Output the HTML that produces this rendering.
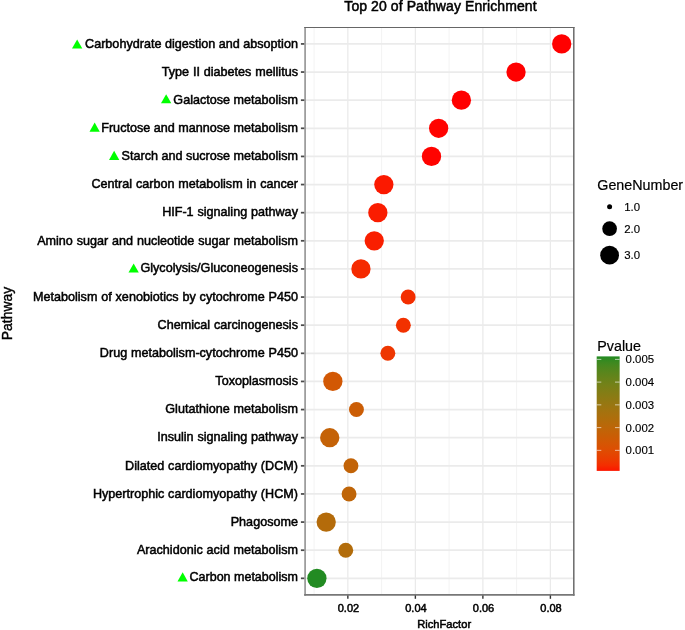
<!DOCTYPE html>
<html><head><meta charset="utf-8"><title>Top 20 of Pathway Enrichment</title>
<style>html,body{margin:0;padding:0;background:#fff;}svg{display:block;}text{font-family:"Liberation Sans",Arial,Helvetica,sans-serif;fill:#000;}</style></head><body>
<svg width="685" height="630" viewBox="0 0 685 630">
<rect width="685" height="630" fill="#fff"/>
<g stroke="#f3f3f3" stroke-width="1">
<line x1="314.09" x2="314.09" y1="27.5" y2="594.8"/>
<line x1="381.61" x2="381.61" y1="27.5" y2="594.8"/>
<line x1="449.12" x2="449.12" y1="27.5" y2="594.8"/>
<line x1="516.64" x2="516.64" y1="27.5" y2="594.8"/>
</g>
<g stroke="#eaeaea" stroke-width="1.25">
<line x1="347.85" x2="347.85" y1="27.5" y2="594.8"/>
<line x1="415.37" x2="415.37" y1="27.5" y2="594.8"/>
<line x1="482.88" x2="482.88" y1="27.5" y2="594.8"/>
<line x1="550.40" x2="550.40" y1="27.5" y2="594.8"/>
</g>
<g stroke="#ebebeb" stroke-width="1.8">
<line x1="305.1" x2="574.0" y1="43.92" y2="43.92"/>
<line x1="305.1" x2="574.0" y1="72.05" y2="72.05"/>
<line x1="305.1" x2="574.0" y1="100.17" y2="100.17"/>
<line x1="305.1" x2="574.0" y1="128.30" y2="128.30"/>
<line x1="305.1" x2="574.0" y1="156.43" y2="156.43"/>
<line x1="305.1" x2="574.0" y1="184.56" y2="184.56"/>
<line x1="305.1" x2="574.0" y1="212.68" y2="212.68"/>
<line x1="305.1" x2="574.0" y1="240.81" y2="240.81"/>
<line x1="305.1" x2="574.0" y1="268.94" y2="268.94"/>
<line x1="305.1" x2="574.0" y1="297.06" y2="297.06"/>
<line x1="305.1" x2="574.0" y1="325.19" y2="325.19"/>
<line x1="305.1" x2="574.0" y1="353.32" y2="353.32"/>
<line x1="305.1" x2="574.0" y1="381.44" y2="381.44"/>
<line x1="305.1" x2="574.0" y1="409.57" y2="409.57"/>
<line x1="305.1" x2="574.0" y1="437.70" y2="437.70"/>
<line x1="305.1" x2="574.0" y1="465.82" y2="465.82"/>
<line x1="305.1" x2="574.0" y1="493.95" y2="493.95"/>
<line x1="305.1" x2="574.0" y1="522.08" y2="522.08"/>
<line x1="305.1" x2="574.0" y1="550.21" y2="550.21"/>
<line x1="305.1" x2="574.0" y1="578.33" y2="578.33"/>
</g>
<circle cx="561.7" cy="43.92" r="9.65" fill="#ff0000"/>
<circle cx="516.05" cy="72.05" r="9.65" fill="#ff0000"/>
<circle cx="461.4" cy="100.17" r="9.65" fill="#ff0000"/>
<circle cx="438.65" cy="128.30" r="9.65" fill="#ff0300"/>
<circle cx="431.5" cy="156.43" r="9.65" fill="#ff0300"/>
<circle cx="383.85" cy="184.56" r="9.65" fill="#fb1900"/>
<circle cx="377.85" cy="212.68" r="9.65" fill="#fa1c00"/>
<circle cx="374.25" cy="240.81" r="9.65" fill="#f91f00"/>
<circle cx="360.95" cy="268.94" r="9.65" fill="#f52a00"/>
<circle cx="408.15" cy="297.06" r="7.45" fill="#f32e00"/>
<circle cx="403.35" cy="325.19" r="7.45" fill="#f23100"/>
<circle cx="387.85" cy="353.32" r="7.45" fill="#ee3701"/>
<circle cx="332.85" cy="381.44" r="9.65" fill="#d25804"/>
<circle cx="356.45" cy="409.57" r="7.45" fill="#cb5d05"/>
<circle cx="329.75" cy="437.70" r="9.65" fill="#c46207"/>
<circle cx="350.95" cy="465.82" r="7.45" fill="#c26307"/>
<circle cx="349.05" cy="493.95" r="7.45" fill="#bf6508"/>
<circle cx="326.2" cy="522.08" r="9.65" fill="#b46b0a"/>
<circle cx="345.75" cy="550.21" r="7.45" fill="#b26c0b"/>
<circle cx="316.9" cy="578.33" r="9.65" fill="#228b22"/>
<line x1="305.1" x2="305.1" y1="26.9" y2="595.65" stroke="#9e9e9e" stroke-width="1.8"/>
<line x1="573.8" x2="573.8" y1="26.9" y2="595.65" stroke="#6a6a6a" stroke-width="1.5"/>
<line x1="304.20000000000005" x2="574.5" y1="27.5" y2="27.5" stroke="#666" stroke-width="1.2"/>
<line x1="304.20000000000005" x2="574.5" y1="594.8" y2="594.8" stroke="#777" stroke-width="1.7"/>
<g stroke="#4a4a4a" stroke-width="1.75">
<line x1="300.9" x2="304.3" y1="43.92" y2="43.92"/>
<line x1="300.9" x2="304.3" y1="72.05" y2="72.05"/>
<line x1="300.9" x2="304.3" y1="100.17" y2="100.17"/>
<line x1="300.9" x2="304.3" y1="128.30" y2="128.30"/>
<line x1="300.9" x2="304.3" y1="156.43" y2="156.43"/>
<line x1="300.9" x2="304.3" y1="184.56" y2="184.56"/>
<line x1="300.9" x2="304.3" y1="212.68" y2="212.68"/>
<line x1="300.9" x2="304.3" y1="240.81" y2="240.81"/>
<line x1="300.9" x2="304.3" y1="268.94" y2="268.94"/>
<line x1="300.9" x2="304.3" y1="297.06" y2="297.06"/>
<line x1="300.9" x2="304.3" y1="325.19" y2="325.19"/>
<line x1="300.9" x2="304.3" y1="353.32" y2="353.32"/>
<line x1="300.9" x2="304.3" y1="381.44" y2="381.44"/>
<line x1="300.9" x2="304.3" y1="409.57" y2="409.57"/>
<line x1="300.9" x2="304.3" y1="437.70" y2="437.70"/>
<line x1="300.9" x2="304.3" y1="465.82" y2="465.82"/>
<line x1="300.9" x2="304.3" y1="493.95" y2="493.95"/>
<line x1="300.9" x2="304.3" y1="522.08" y2="522.08"/>
<line x1="300.9" x2="304.3" y1="550.21" y2="550.21"/>
<line x1="300.9" x2="304.3" y1="578.33" y2="578.33"/>
</g>
<g stroke="#333" stroke-width="1.4">
<line x1="347.85" x2="347.85" y1="595.4" y2="598.8"/>
<line x1="415.37" x2="415.37" y1="595.4" y2="598.8"/>
<line x1="482.88" x2="482.88" y1="595.4" y2="598.8"/>
<line x1="550.40" x2="550.40" y1="595.4" y2="598.8"/>
</g>
<g font-size="12.6" word-spacing="0.35" text-anchor="end" stroke="#000" stroke-width="0.5">
<text x="297.95" y="47.62" word-spacing="0">Carbohydrate digestion and absoption</text>
<text x="297.95" y="75.75">Type II diabetes mellitus</text>
<text x="297.95" y="103.87" word-spacing="0">Galactose metabolism</text>
<text x="297.95" y="132.00" word-spacing="0">Fructose and mannose metabolism</text>
<text x="297.95" y="160.13" word-spacing="0">Starch and sucrose metabolism</text>
<text x="297.95" y="188.25">Central carbon metabolism in cancer</text>
<text x="297.95" y="216.38">HIF-1 signaling pathway</text>
<text x="297.95" y="244.51">Amino sugar and nucleotide sugar metabolism</text>
<text x="297.95" y="272.34" word-spacing="0">Glycolysis/Gluconeogenesis</text>
<text x="297.95" y="300.76">Metabolism of xenobiotics by cytochrome P450</text>
<text x="297.95" y="328.89">Chemical carcinogenesis</text>
<text x="297.95" y="357.02">Drug metabolism-cytochrome P450</text>
<text x="297.95" y="385.14">Toxoplasmosis</text>
<text x="297.95" y="413.27">Glutathione metabolism</text>
<text x="297.95" y="441.40">Insulin signaling pathway</text>
<text x="297.95" y="469.52">Dilated cardiomyopathy (DCM)</text>
<text x="297.95" y="497.65">Hypertrophic cardiomyopathy (HCM)</text>
<text x="297.95" y="525.78">Phagosome</text>
<text x="297.95" y="553.66">Arachidonic acid metabolism</text>
<text x="297.95" y="581.03" word-spacing="0" font-size="12.5">Carbon metabolism</text>
</g>
<polygon points="72,48.60 82.3,48.60 77.15,39.45" fill="#00ff00"/>
<polygon points="161,103.30 171.3,103.30 166.15,94.15" fill="#00ff00"/>
<polygon points="89.5,131.70 99.8,131.70 94.65,122.55" fill="#00ff00"/>
<polygon points="109,159.90 119.3,159.90 114.15,150.75" fill="#00ff00"/>
<polygon points="128.5,272.60 138.8,272.60 133.65,263.45" fill="#00ff00"/>
<polygon points="177.5,581.40 187.8,581.40 182.65,572.25" fill="#00ff00"/>
<g font-size="11" text-anchor="middle" stroke="#000" stroke-width="0.5">
<text x="348.45" y="611.5">0.02</text>
<text x="415.97" y="611.5">0.04</text>
<text x="483.48" y="611.5">0.06</text>
<text x="551.00" y="611.5">0.08</text>
</g>
<text x="444.2" y="627.65" font-size="11.15" text-anchor="middle" stroke="#000" stroke-width="0.5">RichFactor</text>
<text transform="translate(12,313.5) rotate(-90)" font-size="13.9" text-anchor="middle" stroke="#000" stroke-width="0.4">Pathway</text>
<text x="440.5" y="11.35" font-size="14.0" letter-spacing="0.09" text-anchor="middle" stroke="#000" stroke-width="0.5">Top 20 of Pathway Enrichment</text>
<text x="597.3" y="189.8" font-size="14.3" stroke="#000" stroke-width="0.2">GeneNumber</text>
<circle cx="609.6" cy="206.8" r="2.5" fill="#000"/>
<text x="624.2" y="210.9" font-size="11.4" stroke="#000" stroke-width="0.15">1.0</text>
<circle cx="609.6" cy="228.7" r="7.35" fill="#000"/>
<text x="624.2" y="233.0" font-size="11.4" stroke="#000" stroke-width="0.15">2.0</text>
<circle cx="609.6" cy="255.2" r="9.4" fill="#000"/>
<text x="624.2" y="258.6" font-size="11.4" stroke="#000" stroke-width="0.15">3.0</text>
<defs><linearGradient id="pg" x1="0" y1="1" x2="0" y2="0"><stop offset="0.00" stop-color="#fc1600"/><stop offset="0.05" stop-color="#f42e00"/><stop offset="0.10" stop-color="#eb3c01"/><stop offset="0.15" stop-color="#e34702"/><stop offset="0.20" stop-color="#db5003"/><stop offset="0.25" stop-color="#d35704"/><stop offset="0.30" stop-color="#ca5d05"/><stop offset="0.35" stop-color="#c26307"/><stop offset="0.40" stop-color="#b96809"/><stop offset="0.45" stop-color="#b06d0b"/><stop offset="0.50" stop-color="#a7710e"/><stop offset="0.55" stop-color="#9e7510"/><stop offset="0.60" stop-color="#947812"/><stop offset="0.65" stop-color="#8a7b14"/><stop offset="0.70" stop-color="#807e16"/><stop offset="0.75" stop-color="#758118"/><stop offset="0.80" stop-color="#69831a"/><stop offset="0.85" stop-color="#5c851c"/><stop offset="0.90" stop-color="#4e871e"/><stop offset="0.95" stop-color="#3c8920"/><stop offset="1.00" stop-color="#228b22"/></linearGradient></defs>
<text x="597.3" y="351" font-size="14.3" stroke="#000" stroke-width="0.2">Pvalue</text>
<rect x="596.7" y="356.4" width="22.95" height="114.5" fill="url(#pg)"/>
<line x1="596.7" x2="601.3" y1="359.4" y2="359.4" stroke="#fff" stroke-opacity="0.6" stroke-width="1.05"/>
<line x1="615.0" x2="619.65" y1="359.4" y2="359.4" stroke="#fff" stroke-opacity="0.6" stroke-width="1.05"/>
<text x="625.6" y="363.45" font-size="11.4" stroke="#000" stroke-width="0.15">0.005</text>
<line x1="596.7" x2="601.3" y1="382.1" y2="382.1" stroke="#fff" stroke-opacity="0.6" stroke-width="1.05"/>
<line x1="615.0" x2="619.65" y1="382.1" y2="382.1" stroke="#fff" stroke-opacity="0.6" stroke-width="1.05"/>
<text x="625.6" y="386.15" font-size="11.4" stroke="#000" stroke-width="0.15">0.004</text>
<line x1="596.7" x2="601.3" y1="404.85" y2="404.85" stroke="#fff" stroke-opacity="0.6" stroke-width="1.05"/>
<line x1="615.0" x2="619.65" y1="404.85" y2="404.85" stroke="#fff" stroke-opacity="0.6" stroke-width="1.05"/>
<text x="625.6" y="408.90" font-size="11.4" stroke="#000" stroke-width="0.15">0.003</text>
<line x1="596.7" x2="601.3" y1="427.6" y2="427.6" stroke="#fff" stroke-opacity="0.6" stroke-width="1.05"/>
<line x1="615.0" x2="619.65" y1="427.6" y2="427.6" stroke="#fff" stroke-opacity="0.6" stroke-width="1.05"/>
<text x="625.6" y="431.65" font-size="11.4" stroke="#000" stroke-width="0.15">0.002</text>
<line x1="596.7" x2="601.3" y1="450.35" y2="450.35" stroke="#fff" stroke-opacity="0.6" stroke-width="1.05"/>
<line x1="615.0" x2="619.65" y1="450.35" y2="450.35" stroke="#fff" stroke-opacity="0.6" stroke-width="1.05"/>
<text x="625.6" y="454.40" font-size="11.4" stroke="#000" stroke-width="0.15">0.001</text>
</svg></body></html>
